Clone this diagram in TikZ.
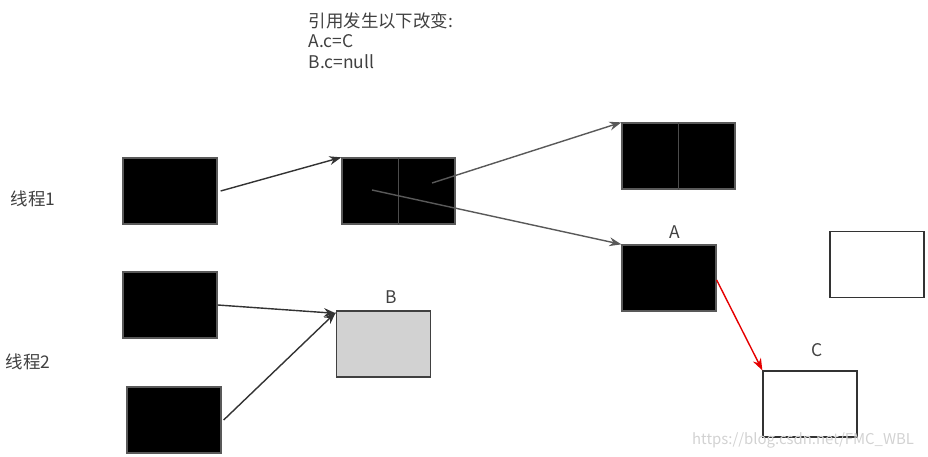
\documentclass[tikz,border=0pt]{standalone}
\usepackage{fontspec}
\setmainfont{Noto Sans CJK SC}
\usetikzlibrary{positioning,arrows.meta,calc}

\begin{document}
\begin{tikzpicture}[
      x=0.025cm, y=-0.025cm,
      font=\fontsize{12.4}{14.5}\selectfont,
      bloque/.style={draw=gray!70!black, line width=0.9pt, fill=black,
                     minimum width=2.35cm, minimum height=1.65cm, inner sep=0pt},
      doble/.style={bloque, minimum width=2.825cm},
      vacio/.style={bloque, fill=white, draw=black!80},
      gris/.style={bloque, fill=gray!35, draw=black!75},
      etiqueta/.style={text=black!75, inner sep=1pt},
      flecha/.style={-{Stealth[length=3mm, width=2.2mm]}, line width=1pt, draw=black!80},
      roja/.style={flecha, draw=red!90!black, fill=red!90!black}]
    \useasboundingbox (0,0) rectangle (928,457);
    % texto superior
    \node[etiqueta, anchor=north west, align=left] (nota) at (307,11)
      {引用发生以下改变:\\A.c=C\\B.c=null};
    \node[etiqueta, anchor=west] (hilo1) at (9,199) {线程1};
    \node[etiqueta, anchor=west] (hilo2) at (4,362) {线程2};
    % bloques
    \node[bloque] (t1) at (170,191) {};
    \node[bloque] (t2) at (170,305) {};
    \node[bloque] (t3) at (174,420) {};
    \node[doble] (s) at (398.5,191) {};
    \node[doble] (r) at (678.5,156) {};
    \node[bloque] (a) at (669,278) {};
    \node[gris] (b) at (383.5,344) {};
    \node[vacio] (c) at (810,404) {};
    \node[vacio] (e) at (877,264.5) {};
    \draw[gray!60!black, line width=0.9pt] (s.north) -- (s.south);
    \draw[gray!60!black, line width=0.9pt] (r.north) -- (r.south);
    \node[etiqueta] at (675,232) {A};
    \node[etiqueta] at (391,297) {B};
    \node[etiqueta] at (817,350) {C};
    % puntos de salida
    \coordinate (s1) at (372,190);
    \coordinate (s2) at (432,183);
    % flechas
    \draw[flecha] ($(t1.east)+(3,0)$) -- (s.north west);
    \draw[flecha, draw=gray!70!black] (s2) -- (r.north west);
    \draw[flecha, draw=gray!70!black] (s1) -- (a.north west);
    \draw[flecha] (t2.east) -- ($(b.north west)+(0,3)$);
    \draw[flecha] ($(t3.east)+(2,0)$) -- ($(b.north west)+(0,2)$);
    \draw[roja] ($(a.east)+(0,2)$) -- (c.north west);
    % marca de agua
    \node[text=gray!35, font=\fontsize{10.6}{12}\selectfont, anchor=east] (marca) at (919,440)
      {https://blog.csdn.net/FMC\_WBL};
  \end{tikzpicture}
\end{document}
